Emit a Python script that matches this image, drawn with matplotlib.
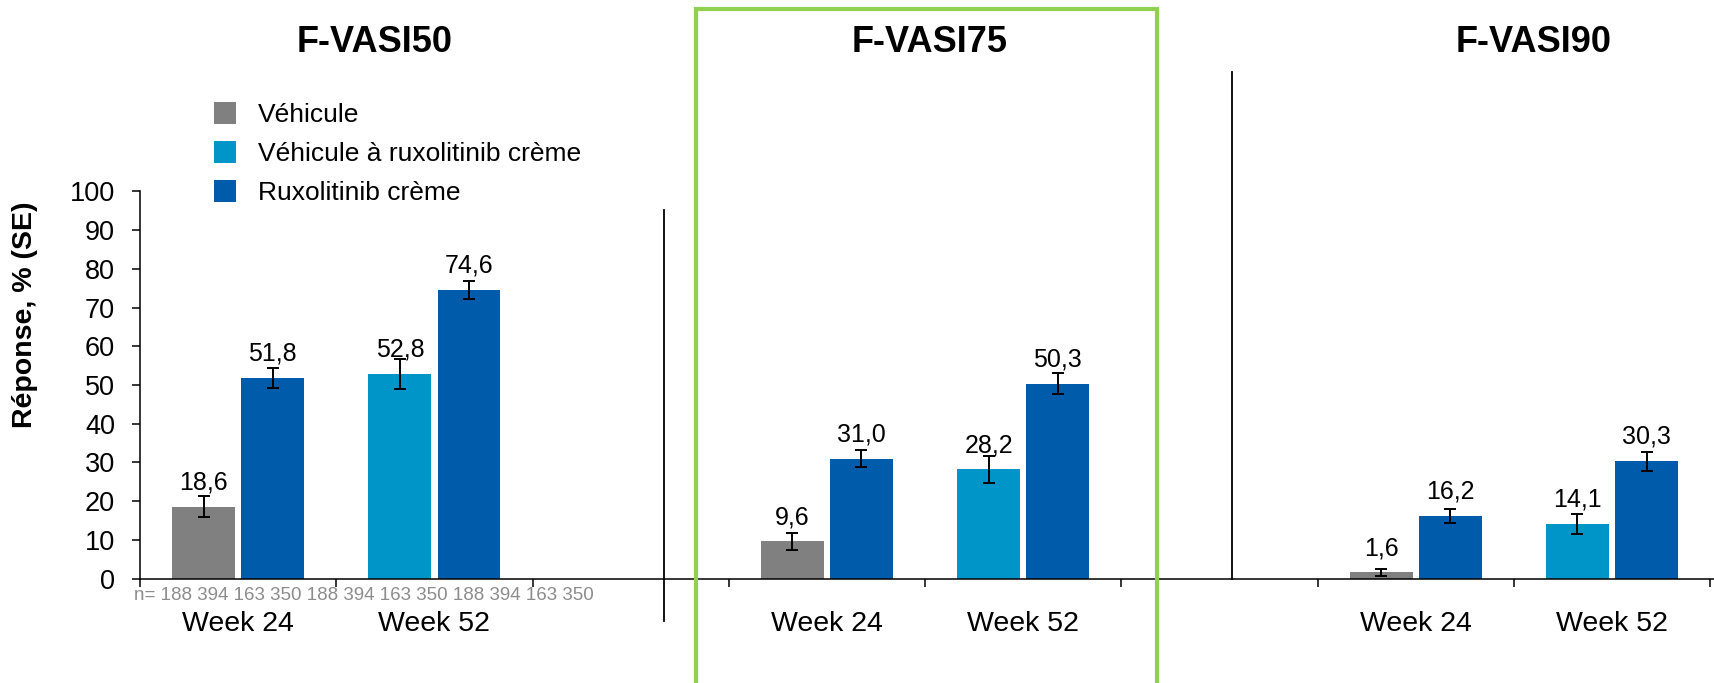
import numpy as np
import matplotlib
matplotlib.use("Agg")
import matplotlib.pyplot as plt
from matplotlib.patches import Rectangle

plt.rcParams["font.family"] = ["Liberation Sans", "DejaVu Sans"]

# ---- data ----
panels = ["F-VASI50", "F-VASI75", "F-VASI90"]
weeks = ["Week 24", "Week 52"]
series = ["Véhicule", "Véhicule à ruxolitinib crème", "Ruxolitinib crème"]

# left bar of each group: vehicle at week 24, vehicle -> ruxolitinib at week 52
left_values = [[18.6, 52.8], [9.6, 28.2], [1.6, 14.1]]
left_se = [[2.8, 3.9], [2.2, 3.5], [0.9, 2.7]]
# right bar of each group: ruxolitinib cream
right_values = [[51.8, 74.6], [31.0, 50.3], [16.2, 30.3]]
right_se = [[2.5, 2.3], [2.3, 2.7], [1.9, 2.5]]

n_counts = [188, 394, 163, 350] * 3
y_ticks = list(range(0, 101, 10))

colors = {"Véhicule": "#808080",
          "Véhicule à ruxolitinib crème": "#0095C8",
          "Ruxolitinib crème": "#005BAA"}

W, H = 1715, 683
fig = plt.figure(figsize=(W / 100, H / 100), dpi=100)


def fx(px):
    return px / W


def fy(py):
    return 1 - py / H


ax_left, ax_right = 140, 1715
ax_bottom, ax_top = 578.6, 191.4
ax = fig.add_axes([fx(ax_left), fy(ax_bottom), fx(ax_right - ax_left),
                   (ax_bottom - ax_top) / H])

bw = 0.32
off = 0.176
xs_centers = []
left_handles = {}
right_handle = None
for p in range(3):
    for w in range(2):
        xc = 3 * p + w
        xs_centers.append(xc)
        lname = series[0] if w == 0 else series[1]
        lv, ls = left_values[p][w], left_se[p][w]
        rv, rs = right_values[p][w], right_se[p][w]
        b1 = ax.bar(xc - off, lv, bw, color=colors[lname], zorder=2)
        b2 = ax.bar(xc + off, rv, bw, color=colors[series[2]], zorder=2)
        left_handles[lname] = b1
        right_handle = b2
        for x, v, s in ((xc - off, lv, ls), (xc + off, rv, rs)):
            ax.errorbar(x, v, yerr=s, fmt="none", ecolor="black",
                        elinewidth=1.4, capsize=4.4, capthick=1.4, zorder=3)
            ax.annotate(f"{v:.1f}".replace(".", ","), (x, v),
                        xytext=(0, 12.5), textcoords="offset points",
                        ha="center", va="baseline", fontsize=18, zorder=4)

ax.set_xlim(-0.5, 7.525)
ax.set_ylim(0, 100)
ax.set_yticks(y_ticks)
ax.tick_params(axis="y", labelsize=19.5, length=6, width=1.1, pad=12)

ax.set_xticks(xs_centers)
ax.set_xticklabels(weeks * 3)
ax.tick_params(axis="x", which="major", length=0, labelsize=20.5, pad=23.5)
ax.set_xticks(np.arange(-0.5, 8, 1), minor=True)
ax.tick_params(axis="x", which="minor", length=6, width=1.1, direction="out")

for side in ("top", "right"):
    ax.spines[side].set_visible(False)
for side in ("left", "bottom"):
    ax.spines[side].set_linewidth(1.1)

# separators between the three panels
ax.axvline(2.169, ymin=-0.1095, ymax=0.952, color="black", lw=1.3,
           clip_on=False)
ax.axvline(5.063, ymin=0.0, ymax=1.308, color="black", lw=1.3,
           clip_on=False)

# panel titles
for name, px in zip(panels, (375, 930, 1534)):
    fig.text(fx(px), fy(43), name, ha="center", va="center",
             fontsize=26, fontweight="bold")

# highlight frame around the F-VASI75 panel
fig.patches.append(Rectangle((fx(696), fy(700)), fx(1157 - 696),
                             (700 - 9) / H, transform=fig.transFigure,
                             fill=False, edgecolor="#92D050", lw=3))

# y axis label
fig.text(fx(25), fy(315), "Réponse, % (SE)", rotation=90, ha="center",
         va="center", fontsize=20.5, fontweight="bold")

# patient counts under the axis
fig.text(fx(134), fy(595), "n= " + " ".join(str(n) for n in n_counts),
         ha="left", va="center", fontsize=13.5, color="#8C8C8C")

# legend
fig.legend([left_handles[series[0]], left_handles[series[1]], right_handle],
           series, loc="upper left", bbox_to_anchor=(fx(214), fy(102)),
           bbox_transform=fig.transFigure, frameon=False, fontsize=19,
           handlelength=0.85, handleheight=0.9, handletextpad=0.8,
           labelspacing=0.53, borderpad=0, borderaxespad=0)

fig.savefig("out.png", dpi=100)
